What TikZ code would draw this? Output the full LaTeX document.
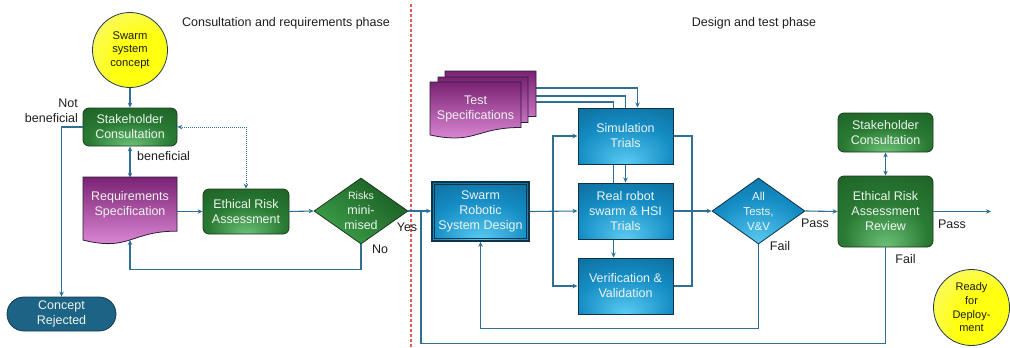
\documentclass[tikz,border=0pt]{standalone}
\usepackage{fontspec}
\setmainfont{Liberation Sans}
\usetikzlibrary{shapes.geometric,arrows.meta,backgrounds,calc}

\definecolor{conn}{HTML}{2F6F93}
\definecolor{gdark}{HTML}{1A5C22}
\definecolor{gmid}{HTML}{2A7A34}
\definecolor{glight}{HTML}{6CC276}
\definecolor{gdiam}{HTML}{3DA04A}
\definecolor{gborder}{HTML}{1B3A1F}
\definecolor{bdark}{HTML}{0C5F88}
\definecolor{bmid}{HTML}{148CC4}
\definecolor{blight}{HTML}{5ACBF2}
\definecolor{bborder}{HTML}{0F3347}
\definecolor{ptop}{HTML}{7A2273}
\definecolor{pbot}{HTML}{E592DE}
\definecolor{pborder}{HTML}{2B1F3A}
\definecolor{crfill}{HTML}{1C6386}
\definecolor{crborder}{HTML}{12394E}
\definecolor{ylight}{HTML}{F4F4C8}
\definecolor{ybright}{HTML}{FFFF10}
\definecolor{cborder}{HTML}{233A4F}
\definecolor{txtw}{HTML}{EEF4EE}
\definecolor{lbl}{HTML}{1E1E1E}
\definecolor{reddash}{HTML}{E25A5A}

\pgfdeclareradialshading{greenglow}{\pgfpoint{0bp}{-25bp}}{color(0bp)=(glight); color(22bp)=(gmid); color(48bp)=(gdark); color(60bp)=(gdark)}
\pgfdeclareradialshading{blueglow}{\pgfpoint{0bp}{-25bp}}{color(0bp)=(blight); color(25bp)=(bmid); color(50bp)=(bdark); color(60bp)=(bdark)}
\pgfdeclareradialshading{yglow}{\pgfpoint{18bp}{-18bp}}{color(0bp)=(ybright); color(22bp)=(ybright); color(55bp)=(ylight); color(60bp)=(ylight)}

\newcommand\myboxfont{\fontsize{12.5}{15}\selectfont}
\newcommand\mylblfont{\fontsize{12.5}{15}\selectfont}
\newcommand\mycircfont{\fontsize{11.2}{13.7}\selectfont}

\newcommand\mydocpath[4]{% x1 y1 x2 h
  (#1,#2) -- (#3,#2) -- (#3,{#2+0.802*#4})
  .. controls ({(#1+#3)/2},{#2+0.802*#4}) and ({(#1+#3)/2},{#2+1.107*#4}) ..
  (#1,{#2+0.934*#4}) -- cycle}

\tikzset{
  cline/.style={draw=conn, line width=1.1pt},
  arr/.style={cline, -{Stealth[length=5pt,width=4.5pt]}},
  arrboth/.style={cline, {Stealth[length=5pt,width=4.5pt]}-{Stealth[length=5pt,width=4.5pt]}},
  gbox/.style={rounded corners=6pt, draw=gborder, line width=0.8pt, shade, shading=greenglow,
    text=txtw, align=center, font=\myboxfont, inner sep=0pt},
  bbox/.style={draw=bborder, line width=1pt, shade, shading=blueglow,
    text=txtw, align=center, font=\myboxfont, inner sep=0pt},
  ycirc/.style={circle, draw=cborder, line width=0.8pt, shade, shading=yglow,
    align=center, font=\mycircfont, text=lbl, inner sep=0pt},
  lbltext/.style={font=\mylblfont, text=lbl, inner sep=0pt, align=center},
  doctext/.style={font=\myboxfont, text=txtw, inner sep=0pt, align=center},
  docshade/.style={top color=ptop, bottom color=pbot, draw=pborder, line width=0.8pt},
}

\begin{document}
\begin{tikzpicture}[x=1pt,y=-1pt]
\useasboundingbox (0,0) rectangle (1010,348);

% phase divider and titles
\draw[reddash, line width=1.3pt, dash pattern=on 3pt off 2pt] (411,4) -- (411,348);
\node[lbltext] (title1) at (286,23) {Consultation and requirements phase};
\node[lbltext] (title2) at (754,23) {Design and test phase};

% ---------- left phase ----------
\node[ycirc, minimum size=75pt] (concept) at (130,50) {Swarm\\system\\concept};
\node[gbox, minimum width=94pt, minimum height=38pt] (sc) at (130,127) {Stakeholder\\Consultation};

\shade[docshade] \mydocpath{83}{177}{177}{67.5};
\node[doctext, minimum width=94pt, minimum height=54pt] (req) at (130,205) {Requirements\\Specification};
\coordinate (reqb) at (130,240);

\node[gbox, minimum width=86pt, minimum height=45pt] (era) at (246,211.5) {Ethical Risk\\Assessment};

\node[diamond, draw=gborder, line width=0.8pt, shade, top color=gdark, bottom color=gdiam,
      shading angle=-40, minimum width=94pt, minimum height=66pt, inner sep=0pt] (risk) at (361,211) {};
\node[doctext, font=\fontsize{12.5}{15}\selectfont] at (risk) {{\fontsize{10.6}{15}\selectfont Risks}\\mini-\\mised};

\node[rounded corners=17pt, fill=crfill, draw=crborder, line width=0.8pt, text=txtw,
      align=center, font=\myboxfont, minimum width=109pt, minimum height=34pt, inner sep=0pt]
      (cr) at (61.5,314) {Concept\\Rejected};

% left connectors
\draw[arr] (concept) -- (sc);
\draw[arrboth] (sc.south) -- (req.north);
\draw[arr] (sc.west) -| (cr.north);
\draw[arr] (req.east |- era) -- (era.west);
\draw[arr] (era.east) -- (risk.west);
\draw[cline, dash pattern=on 1pt off 1pt, line width=0.9pt,
      {Stealth[length=5pt,width=4.5pt]}-{Stealth[length=5pt,width=4.5pt]}] (era.north) |- (sc.east);
\draw[arr] (risk.south) -- ++(0,25) -| (reqb);

\node[lbltext, align=right, anchor=east] (nb) at (78,110.5) {Not\\beneficial};
\node[lbltext, anchor=west] (bn) at (137,156) {beneficial};
\node[lbltext] (yes) at (407,227) {Yes};
\node[lbltext] (no) at (380,249) {No};

% ---------- right phase ----------
\shade[docshade] \mydocpath{445}{71}{536}{56.7};
\shade[docshade] \mydocpath{438}{77}{528}{56.7};
\shade[docshade] \mydocpath{430}{82}{521}{56.7};
\node[inner sep=0pt, minimum width=91pt, minimum height=45pt] (ts3) at (490.5,93.5) {};
\node[doctext] (ts) at (475.5,108.5) {Test\\Specifications};

\node[bbox, minimum width=97pt, minimum height=59pt, line width=1.6pt] (srsd) at (480.5,211.5) {Swarm\\Robotic\\System Design};
\draw[bborder, line width=0.9pt] ([xshift=3.5pt,yshift=3.5pt]srsd.south west) rectangle ([xshift=-3.5pt,yshift=-3.5pt]srsd.north east);

\node[bbox, minimum width=95pt, minimum height=56pt] (sim) at (625.5,136) {Simulation\\Trials};
\node[bbox, minimum width=95pt, minimum height=56pt] (real) at (625.5,211) {Real robot\\swarm \& HSI\\Trials};
\node[bbox, minimum width=95pt, minimum height=56pt] (vv) at (625.5,286) {Verification \&\\Validation};

\node[diamond, draw=bborder, line width=0.8pt, shade, shading=blueglow,
      minimum width=93pt, minimum height=66pt, inner sep=0pt] (tests) at (758.5,211) {};
\node[doctext, font=\fontsize{11.5}{15}\selectfont] at (tests) {All\\Tests,\\V\&V};

\node[gbox, minimum width=95pt, minimum height=71pt] (erar) at (885.5,211.5) {Ethical Risk\\Assessment\\Review};
\node[gbox, minimum width=95pt, minimum height=39pt] (sc2) at (885.5,132.5) {Stakeholder\\Consultation};

\node[ycirc, minimum size=76pt, font=\fontsize{11}{13.7}\selectfont] (ready) at (971.5,307.5) {Ready\\for\\Deploy-\\ment};

\coordinate (j0) at (421,211.5);
\coordinate (j1) at (553,211.5);
\coordinate (j2) at (692,211.5);
\coordinate (out) at (991,211.5);

\begin{pgfonlayer}{background}
  \draw[arr] ([yshift=5.5pt]ts3.east) -| ([xshift=12pt]sim.north);
  \draw[arr] ([yshift=-2.5pt]ts3.east) -| (real.north);
  \draw[arr] ([yshift=-8.5pt]ts3.east) -| ([xshift=-12pt]vv.north);
\end{pgfonlayer}

\draw[arr] (risk.east) -- (risk.east -| srsd.west);
\draw[arr] (srsd.east) -- (real.west);
\draw[arr] (j1) |- (sim.west);
\draw[arr] (j1) |- (vv.west);
\draw[cline] (sim.east) -| (j2);
\draw[cline] (vv.east) -| (j2);
\draw[arr] (real.east) -- (tests.west);
\draw[arr] (tests.east) -- (erar.west);
\draw[arr] (tests.south) -- ++(0,84) -| (srsd.south);
\draw[arrboth] (erar.north) -- (sc2.south);
\draw[arr] (erar.east) -- (out);
\draw[cline] (erar.south) -- ++(0,96) -| (j0);

\node[lbltext] (pass1) at (815,223) {Pass};
\node[lbltext] (fail1) at (780,246) {Fail};
\node[lbltext] (pass2) at (952,224) {Pass};
\node[lbltext] (fail2) at (905.5,259) {Fail};
\end{tikzpicture}
\end{document}
